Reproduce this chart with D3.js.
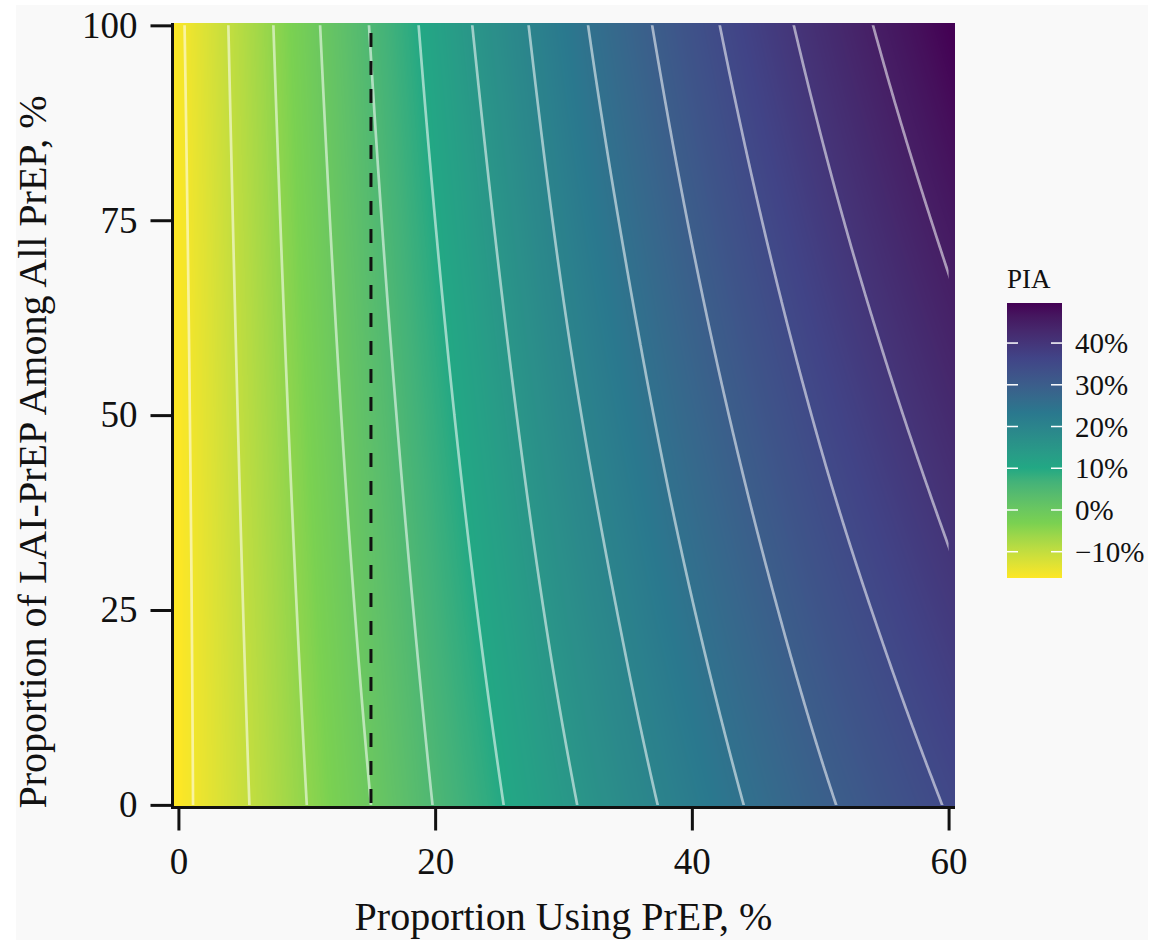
<!DOCTYPE html>
<html>
<head>
<meta charset="utf-8">
<script src="https://cdn.jsdelivr.net/npm/d3@7"></script>
<style>
  body { margin: 0; background: #fff; }
  svg { display: block; }
  text { font-family: "Liberation Serif", "DejaVu Serif", serif; fill: #111; }
</style>
</head>
<body>
<svg id="chart"></svg>
<script>
// proportion using PrEP (%), columns of the grid
const prepUse = [0, 5, 10, 15, 20, 25, 30, 35, 40, 45, 50, 55, 60]
// proportion of LAI-PrEP among all PrEP (%), rows of the grid
const laiShare = [0, 50, 100]
// PIA (%), one array per row
const piaLai0 = [-16.3, -10.6, -5.0, 0.0, 5.2, 9.7, 14.1, 18.2, 22.0, 25.7, 29.2, 32.3, 35.3]
const piaLai50 = [-16.2, -9.5, -3.2, 2.7, 8.4, 13.6, 18.7, 23.2, 27.6, 31.7, 35.5, 39.0, 42.4]
const piaLai100 = [-15.7, -8.4, -1.4, 5.2, 11.6, 17.4, 23.0, 28.1, 33.0, 37.5, 41.7, 45.7, 49.6]

const contourLevels = [-15, -10, -5, 0, 5, 10, 15, 20, 25, 30, 35, 40, 45]
const xTicks = [0, 20, 40, 60]
const yTicks = [0, 25, 50, 75, 100]
const legendTicks = [-10, 0, 10, 20, 30, 40]
const currentPrep = 15

const width = 1162
const height = 940
const panel = { left: 172, right: 955, top: 23, bottom: 808 }

const svg = d3.select("#chart")
    .attr("width", width)
    .attr("height", height)

svg.append("rect").attr("width", width).attr("height", height).attr("fill", "#fff")
svg.append("rect")
    .attr("x", 16).attr("y", 5)
    .attr("width", 1132).attr("height", 935)
    .attr("fill", "#f9f9f9")

const x = d3.scaleLinear().domain([-0.5, 60.5]).range([panel.left, panel.right])
const y = d3.scaleLinear().domain([-0.4, 100.3]).range([panel.bottom, panel.top])

const rows = [piaLai0, piaLai50, piaLai100]
const allValues = rows.flat()
const vmin = d3.min(allValues)
const vmax = d3.max(allValues)

// reversed viridis, six stops blended in Lab like ggplot does
const palette = d3.piecewise(d3.interpolateLab,
    [1, 0.8, 0.6, 0.4, 0.2, 0].map(t => d3.interpolateViridis(t)))
const colour = v => palette((v - vmin) / (vmax - vmin))

// smooth reading between the grid points (rendering only)
function catmull(xs, vs, xv) {
    const n = xs.length
    const h = xs[1] - xs[0]
    const t = (xv - xs[0]) / h
    let i = Math.floor(t)
    i = Math.max(0, Math.min(n - 2, i))
    const u = t - i
    const p1 = vs[i], p2 = vs[i + 1]
    const p0 = i > 0 ? vs[i - 1] : 2 * p1 - p2
    const p3 = i + 2 < n ? vs[i + 2] : 2 * p2 - p1
    return 0.5 * (2 * p1 + (-p0 + p2) * u + (2 * p0 - 5 * p1 + 4 * p2 - p3) * u * u + (-p0 + 3 * p1 - 3 * p2 + p3) * u * u * u)
}

function field(xv, yv) {
    const r = rows.map(v => catmull(prepUse, v, xv))
    const t = (yv - laiShare[0]) / (laiShare[1] - laiShare[0])
    return r[0] * (t - 1) * (t - 2) / 2 - r[1] * t * (t - 2) + r[2] * t * (t - 1) / 2
}

// raster fill
const pw = panel.right - panel.left
const ph = panel.bottom - panel.top
const lut = d3.range(512).map(k => d3.rgb(palette(k / 511)))
const canvas = document.createElement("canvas")
canvas.width = pw
canvas.height = ph
const ctx = canvas.getContext("2d")
const img = ctx.createImageData(pw, ph)
for (let j = 0; j < ph; j++) {
    const yv = y.invert(panel.top + j + 0.5)
    for (let i = 0; i < pw; i++) {
        const v = field(x.invert(panel.left + i + 0.5), yv)
        let k = Math.round((v - vmin) / (vmax - vmin) * 511)
        k = Math.max(0, Math.min(511, k))
        const c = lut[k]
        const p = (j * pw + i) * 4
        img.data[p] = c.r
        img.data[p + 1] = c.g
        img.data[p + 2] = c.b
        img.data[p + 3] = 255
    }
}
ctx.putImageData(img, 0, 0)

svg.append("image")
    .attr("x", panel.left).attr("y", panel.top)
    .attr("width", pw).attr("height", ph)
    .attr("preserveAspectRatio", "none")
    .attr("href", canvas.toDataURL())

// contour lines
const gx0 = -1, gdx = 0.25, nx = 249
const gy0 = -1, gdy = 0.5, ny = 205
const grid = new Array(nx * ny)
for (let j = 0; j < ny; j++) {
    for (let i = 0; i < nx; i++) {
        grid[j * nx + i] = field(gx0 + i * gdx, gy0 + j * gdy)
    }
}
const contours = d3.contours().size([nx, ny]).thresholds(contourLevels)(grid)
const proj = d3.geoTransform({
    point: function (px, py) {
        this.stream.point(x(gx0 + (px - 0.5) * gdx), y(gy0 + (py - 0.5) * gdy))
    }
})

svg.append("clipPath").attr("id", "dataClip")
    .append("rect")
    .attr("x", x(0)).attr("y", y(100))
    .attr("width", x(60) - x(0)).attr("height", y(0) - y(100))

svg.append("g")
    .attr("clip-path", "url(#dataClip)")
    .selectAll("path")
    .data(contours)
    .join("path")
    .attr("d", d3.geoPath(proj))
    .attr("fill", "none")
    .attr("stroke", "#fff")
    .attr("stroke-opacity", 0.55)
    .attr("stroke-width", 2.7)

// current PrEP use
svg.append("line")
    .attr("x1", x(currentPrep)).attr("x2", x(currentPrep))
    .attr("y1", panel.top).attr("y2", panel.bottom)
    .attr("stroke", "#111")
    .attr("stroke-width", 3)
    .attr("stroke-dasharray", "14,14")
    .attr("stroke-dashoffset", 18)

// axes
const yAxis = svg.append("g")
    .attr("transform", `translate(${panel.left + 0.5},0)`)
    .call(d3.axisLeft(y).tickValues(yTicks).tickSize(22).tickPadding(13))
yAxis.select(".domain").remove()
yAxis.selectAll(".tick line").attr("stroke", "#111").attr("stroke-width", 3)
yAxis.selectAll(".tick text").attr("font-size", 37).attr("font-family", null).attr("fill", "#111")

const xAxis = svg.append("g")
    .attr("transform", `translate(0,${panel.bottom - 0.5})`)
    .call(d3.axisBottom(x).tickValues(xTicks).tickSize(23).tickPadding(17))
xAxis.select(".domain").remove()
xAxis.selectAll(".tick line").attr("stroke", "#111").attr("stroke-width", 3)
xAxis.selectAll(".tick text").attr("font-size", 37).attr("font-family", null).attr("fill", "#111")

svg.append("line")
    .attr("x1", panel.left + 0.5).attr("x2", panel.left + 0.5)
    .attr("y1", panel.top).attr("y2", panel.bottom + 1)
    .attr("stroke", "#111").attr("stroke-width", 3)
svg.append("line")
    .attr("x1", panel.left - 1).attr("x2", panel.right)
    .attr("y1", panel.bottom - 0.5).attr("y2", panel.bottom - 0.5)
    .attr("stroke", "#111").attr("stroke-width", 3)

svg.append("text")
    .attr("x", (panel.left + panel.right) / 2)
    .attr("y", 930)
    .attr("text-anchor", "middle")
    .attr("font-size", 40)
    .text("Proportion Using PrEP, %")

svg.append("text")
    .attr("transform", "translate(46,452) rotate(-90)")
    .attr("text-anchor", "middle")
    .attr("font-size", 40)
    .text("Proportion of LAI-PrEP Among All PrEP, %")

// legend
const bar = { x: 1007, y: 303, w: 55, h: 275 }
const grad = svg.append("defs").append("linearGradient")
    .attr("id", "piaGrad")
    .attr("x1", 0).attr("y1", 1).attr("x2", 0).attr("y2", 0)
grad.selectAll("stop")
    .data(d3.range(0, 1.0001, 0.05))
    .join("stop")
    .attr("offset", d => d)
    .attr("stop-color", d => colour(vmin + d * (vmax - vmin)))

svg.append("rect")
    .attr("x", bar.x).attr("y", bar.y)
    .attr("width", bar.w).attr("height", bar.h)
    .attr("fill", "url(#piaGrad)")

const ly = d3.scaleLinear().domain([vmin, vmax]).range([bar.y + bar.h, bar.y])
const lt = svg.append("g").selectAll("g").data(legendTicks).join("g")
lt.append("line")
    .attr("x1", bar.x).attr("x2", bar.x + 11)
    .attr("y1", d => ly(d)).attr("y2", d => ly(d))
    .attr("stroke", "#fff").attr("stroke-width", 1.5)
lt.append("line")
    .attr("x1", bar.x + bar.w - 11).attr("x2", bar.x + bar.w)
    .attr("y1", d => ly(d)).attr("y2", d => ly(d))
    .attr("stroke", "#fff").attr("stroke-width", 1.5)
lt.append("text")
    .attr("x", 1075)
    .attr("y", d => ly(d))
    .attr("dy", "0.35em")
    .attr("font-size", 29)
    .text(d => (d < 0 ? "\u2212" + Math.abs(d) : d) + "%")

svg.append("text")
    .attr("x", bar.x)
    .attr("y", 288)
    .attr("font-size", 27)
    .text("PIA")
</script>
</body>
</html>
